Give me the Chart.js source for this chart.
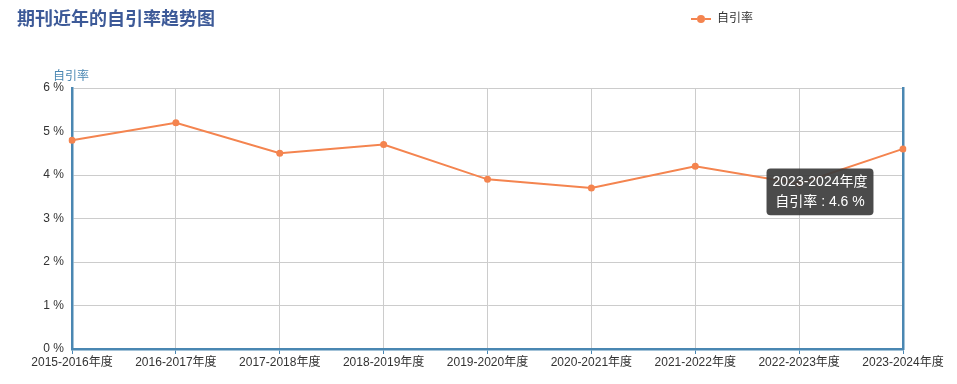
<!DOCTYPE html>
<html>
<head>
<meta charset="utf-8">
<script src="https://cdn.jsdelivr.net/npm/chart.js@4.4.1/dist/chart.umd.min.js"></script>
<style>
  html, body { margin: 0; padding: 0; background: #fff; }
  #wrap { width: 957px; height: 384px; position: relative; }
</style>
</head>
<body>
<div id="wrap"><canvas id="c" width="957" height="384"></canvas></div>
<script>
const categories = ["2015-2016年度","2016-2017年度","2017-2018年度","2018-2019年度","2019-2020年度","2020-2021年度","2021-2022年度","2022-2023年度","2023-2024年度"];
const selfCitationRate = [4.8, 5.2, 4.5, 4.7, 3.9, 3.7, 4.2, 3.8, 4.6];
const seriesName = "自引率";
const chartTitle = "期刊近年的自引率趋势图";
const yTicks = [0, 1, 2, 3, 4, 5, 6];

const FONT = 'Arial, "Liberation Sans", "Noto Sans CJK SC", sans-serif';
const ORANGE = '#f4844f';
const AXIS_BLUE = '#4a87b2';
const GRID = '#cccccc';

Chart.Tooltip.positioners.fixedLeft = function(items) {
  if (!items.length) return false;
  const el = items[0].element;
  return { x: el.x - 83, y: el.y + 43, xAlign: 'center', yAlign: 'center' };
};

const decor = {
  id: 'decor',
  afterDraw(chart) {
    const ctx = chart.ctx;
    ctx.save();
    // title
    ctx.font = 'bold 18px ' + FONT;
    ctx.fillStyle = '#3d5a98';
    ctx.textBaseline = 'middle';
    ctx.textAlign = 'left';
    ctx.fillText(chartTitle, 17, 20);
    // legend
    ctx.strokeStyle = ORANGE;
    ctx.lineWidth = 2;
    ctx.beginPath();
    ctx.moveTo(691, 19); ctx.lineTo(697, 19);
    ctx.moveTo(705, 19); ctx.lineTo(711, 19);
    ctx.stroke();
    ctx.fillStyle = ORANGE;
    ctx.beginPath(); ctx.arc(701, 19, 4, 0, Math.PI * 2); ctx.fill();
    ctx.font = '12px ' + FONT;
    ctx.fillStyle = '#333';
    ctx.fillText(seriesName, 717, 19);
    // y axis title
    ctx.fillStyle = AXIS_BLUE;
    ctx.fillText(seriesName, 53, 77);
    ctx.restore();
  }
};

const chart = new Chart(document.getElementById('c'), {
  type: 'line',
  data: {
    labels: categories,
    datasets: [{
      label: seriesName,
      data: selfCitationRate,
      borderColor: ORANGE,
      backgroundColor: ORANGE,
      pointBackgroundColor: ORANGE,
      pointBorderColor: ORANGE,
      pointRadius: 3.5,
      pointHoverRadius: 3.5,
      pointBorderWidth: 0,
      pointHoverBorderWidth: 0,
      borderWidth: 2,
      tension: 0,
      fill: false
    }]
  },
  options: {
    responsive: false,
    animation: false,
    events: [],
    layout: { padding: { top: 88, left: 0, right: 0, bottom: 0 } },
    plugins: {
      legend: { display: false },
      title: { display: false },
      tooltip: {
        enabled: true,
        position: 'fixedLeft',
        backgroundColor: 'rgba(60,60,60,0.92)',
        titleColor: '#fff',
        bodyColor: '#fff',
        titleFont: { family: FONT, size: 14, weight: 'normal' },
        bodyFont: { family: FONT, size: 14 },
        titleAlign: 'center',
        bodyAlign: 'center',
        titleMarginBottom: 3,
        padding: { left: 6, right: 6, top: 5, bottom: 5 },
        cornerRadius: 4,
        caretSize: 0,
        caretPadding: 0,
        displayColors: false,
        callbacks: {
          title: (items) => items[0].label,
          label: (item) => seriesName + ' : ' + item.parsed.y + ' %'
        }
      }
    },
    scales: {
      x: {
        type: 'category',
        offset: false,
        grid: { color: GRID, lineWidth: 1, drawTicks: true, tickLength: 5, tickColor: AXIS_BLUE, tickWidth: 1 },
        border: { color: AXIS_BLUE, width: 2.5 },
        ticks: { autoSkip: false, maxRotation: 0, minRotation: 0, color: '#333', font: { family: FONT, size: 12 }, padding: 1 },
        afterFit(scale) { scale.height = 35; }
      },
      y: {
        position: 'left',
        min: 0,
        max: 6,
        afterBuildTicks(scale) { scale.ticks = yTicks.map(v => ({ value: v })); },
        grid: { color: GRID, lineWidth: 1, drawTicks: false },
        border: { color: AXIS_BLUE, width: 2.5 },
        ticks: { color: '#333', font: { family: FONT, size: 12 }, padding: 8, callback: (v) => v + ' %' },
        afterFit(scale) { scale.width = 72; }
      },
      y2: {
        position: 'right',
        min: 0,
        max: 6,
        grid: { display: false, drawTicks: false },
        border: { color: AXIS_BLUE, width: 2.5 },
        ticks: { display: false },
        afterFit(scale) { scale.width = 54; }
      }
    }
  },
  plugins: [decor]
});

chart.tooltip.setActiveElements([{ datasetIndex: 0, index: 8 }], { x: 903, y: 149 });
chart.draw();
</script>
</body>
</html>
